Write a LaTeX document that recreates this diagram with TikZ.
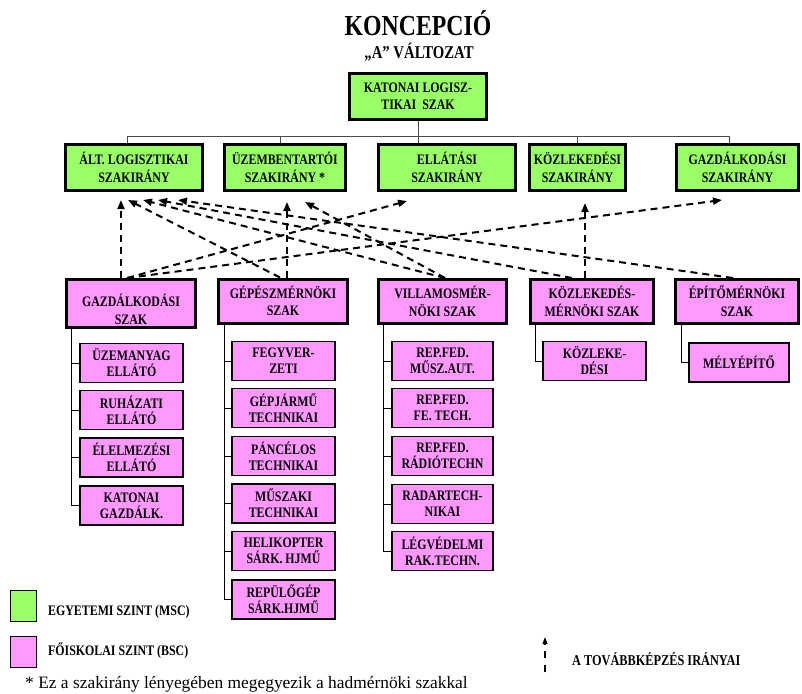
\documentclass[tikz,border=0pt]{standalone}
\usepackage{fontspec}
\setmainfont{Liberation Serif}[FakeStretch=0.82]
\newfontfamily\notefont{Liberation Serif}
\usetikzlibrary{arrows.meta}
\definecolor{mscgreen}{RGB}{153,255,102}
\definecolor{bscpink}{RGB}{255,153,255}
\begin{document}
\begin{tikzpicture}[x=1pt,y=-1pt,
  boxfont/.style={font=\fontsize{14.5}{17.5}\selectfont\bfseries},
  msc/.style={draw=black, line width=3pt, fill=mscgreen, inner sep=0pt,
    minimum height=46pt, align=center, boxfont},
  bsc/.style={draw=black, line width=3pt, fill=bscpink, inner sep=0pt,
    minimum height=44pt, align=center, boxfont},
  subbox/.style={draw=black, line width=1.2pt, fill=bscpink, inner sep=0pt,
    minimum width=103pt, minimum height=39pt, align=center,
    font=\fontsize{14.5}{16}\selectfont\bfseries},
  tree/.style={draw=black!70, line width=1pt},
  trunk/.style={draw=black, line width=1pt},
  route/.style={line width=2pt, dash pattern=on 7pt off 5pt,
    -{Triangle[length=9pt,width=7pt]}},
  legtext/.style={anchor=west, inner sep=0pt, font=\fontsize{14.5}{16}\selectfont\bfseries},
]
\useasboundingbox (0,0) rectangle (802,693);

% title
\node[anchor=base, font=\fontsize{29}{32}\selectfont\bfseries] (title) at (418,36) {KONCEPCIÓ};
\node[anchor=base, font=\fontsize{18}{20}\selectfont\bfseries] (subtitle) at (419,59) {„A” VÁLTOZAT};

% university level
\node[msc, minimum width=137pt] (top) at (418,96.5) {KATONAI LOGISZ-\\TIKAI~ SZAK};
\node[msc, minimum width=137pt] (alt) at (134,167.5) {ÁLT. LOGISZTIKAI\\SZAKIRÁNY};
\node[msc, minimum width=121pt] (uzem) at (285,167.5) {ÜZEMBENTARTÓI\\SZAKIRÁNY *};
\node[msc, minimum width=137pt] (ell) at (447,167.5) {ELLÁTÁSI\\SZAKIRÁNY};
\node[msc, minimum width=96pt] (koz) at (577.5,167.5) {KÖZLEKEDÉSI\\SZAKIRÁNY};
\node[msc, minimum width=122pt] (gazdsz) at (737.5,167.5) {GAZDÁLKODÁSI\\SZAKIRÁNY};

% tree of the university level
\coordinate (bus) at (0,136);
\draw[tree] (top.south) -- (top.south |- ell.north);
\draw[tree] ([xshift=-7pt]alt.north) -- ([xshift=-7pt]alt.north |- bus)
  -- ([xshift=-8.5pt]gazdsz.north |- bus) -- ([xshift=-8.5pt]gazdsz.north);
\draw[tree] ([xshift=-5pt]uzem.north) -- ([xshift=-5pt]uzem.north |- bus);
\draw[tree] (koz.north) -- (koz.north |- bus);

% college level
\node[bsc, minimum width=129pt, minimum height=48pt] (gazd) at (131,303.5) {};
\node[align=center, boxfont, inner sep=0pt] (gazdtext) at ([yshift=-6pt]gazd.center) {GAZDÁLKODÁSI\\SZAK};
\node[bsc, minimum width=129pt] (gep) at (283,301) {GÉPÉSZMÉRNÖKI\\SZAK};
\node[bsc, minimum width=128pt] (vill) at (442.5,301.5) {VILLAMOSMÉR-\\NÖKI SZAK};
\node[bsc, minimum width=123pt] (kozl) at (592,301.5) {KÖZLEKEDÉS-\\MÉRNÖKI SZAK};
\node[bsc, minimum width=123pt] (epit) at (737,301.5) {ÉPÍTŐMÉRNÖKI\\SZAK};

% specialisations
\node[subbox] (g1) at (131.5,363) {ÜZEMANYAG\\ELLÁTÓ};
\node[subbox] (g2) at (131.5,410) {RUHÁZATI\\ELLÁTÓ};
\node[subbox] (g3) at (131.5,457.5) {ÉLELMEZÉSI\\ELLÁTÓ};
\node[subbox] (g4) at (131.5,505.5) {KATONAI\\GAZDÁLK.};

\node[subbox] (m1) at (283.5,361) {FEGYVER-\\ZETI};
\node[subbox] (m2) at (283.5,408) {GÉPJÁRMŰ\\TECHNIKAI};
\node[subbox] (m3) at (283.5,456) {PÁNCÉLOS\\TECHNIKAI};
\node[subbox] (m4) at (283.5,503.5) {MŰSZAKI\\TECHNIKAI};
\node[subbox] (m5) at (283.5,551) {HELIKOPTER\\SÁRK. HJMŰ};
\node[subbox] (m6) at (283.5,599.5) {REPÜLŐGÉP\\SÁRK.HJMŰ};

\node[subbox, minimum width=101pt] (v1) at (442.5,361) {REP.FED.\\MŰSZ.AUT.};
\node[subbox, minimum width=101pt] (v2) at (442.5,408) {REP.FED.\\FE. TECH.};
\node[subbox, minimum width=101pt] (v3) at (442.5,456) {REP.FED.\\RÁDIÓTECHN};
\node[subbox, minimum width=101pt] (v4) at (442.5,504) {RADARTECH-\\NIKAI};
\node[subbox, minimum width=101pt] (v5) at (442.5,551) {LÉGVÉDELMI\\RAK.TECHN.};

\node[subbox] (k1) at (594.5,361) {KÖZLEKE-\\DÉSI};
\node[subbox, minimum width=100pt] (e1) at (739,362.5) {MÉLYÉPÍTŐ};

% trunks to the specialisations
\foreach \c in {g1,g2,g3,g4}
  \draw[trunk] ([xshift=6pt]gazd.south west) |- (\c.west);
\foreach \c in {m1,m2,m3,m4,m5,m6}
  \draw[trunk] ([xshift=7pt]gep.south west) |- (\c.west);
\foreach \c in {v1,v2,v3,v4,v5}
  \draw[trunk] ([xshift=6pt]vill.south west) |- (\c.west);
\draw[trunk] ([xshift=6pt]kozl.south west) |- (k1.west);
\draw[trunk] ([xshift=7pt]epit.south west) |- (e1.west);

% directions of further training
\coordinate (altE) at (121,200);
\coordinate (altA) at (128,200);
\coordinate (altB) at (143,200);
\coordinate (altC) at (158,200);
\coordinate (altD) at (178,200);
\coordinate (uzemA) at (287,202);
\coordinate (uzemB) at (305,202);
\coordinate (ellA) at (407,201);
\coordinate (kozA) at (585,203);
\coordinate (gazdszA) at (722,200);

\draw[route] ([xshift=-10pt]gazd.north) -- (altE);
\draw[route] ([xshift=-4pt]gazd.north) -- (ellA);
\draw[route] ([xshift=-4pt]gazd.north) -- (gazdszA);
\draw[route] ([xshift=4pt]gep.north) -- (uzemA);
\draw[route] ([xshift=-3pt]gep.north) -- (altA);
\draw[route] ([xshift=2.5pt]vill.north) -- (uzemB);
\draw[route] ([xshift=2.5pt]vill.north) -- (altB);
\draw[route] ([xshift=-7pt]kozl.north) -- (kozA);
\draw[route] ([xshift=-20pt]kozl.north) -- (altC);
\draw[route] ([xshift=-4pt]epit.north) -- (altD);

% legend
\node[draw=black, line width=1pt, fill=mscgreen, inner sep=0pt,
  minimum width=26pt, minimum height=31pt] (legmsc) at (23.5,606) {};
\node[legtext] (legmsctext) at (48,612) {EGYETEMI SZINT (MSC)};
\node[draw=black, line width=1pt, fill=bscpink, inner sep=0pt,
  minimum width=26pt, minimum height=31pt] (legbsc) at (23.5,652) {};
\node[legtext] (legbsctext) at (48,651) {FŐISKOLAI SZINT (BSC)};
\node[anchor=west, inner sep=0pt, font=\notefont\fontsize{17.4}{20}\selectfont] (note) at (25,684)
  {* Ez a szakirány lényegében megegyezik a hadmérnöki szakkal};
\coordinate (legbot) at (545,672);
\coordinate (legtop) at (545,637);
\draw[line width=1.2pt, dash pattern=on 7pt off 7pt,
  -{Triangle[length=7pt,width=5pt]}] (legbot) -- (legtop);
\node[legtext, font=\fontsize{15}{17}\selectfont\bfseries] (legroute) at (572,659) {A TOVÁBBKÉPZÉS IRÁNYAI};
\end{tikzpicture}
\end{document}
